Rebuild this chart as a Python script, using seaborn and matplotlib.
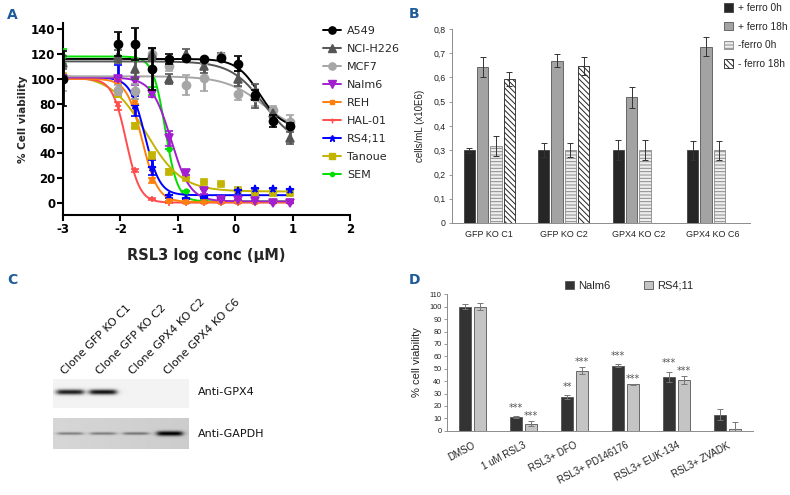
import numpy as np
import pandas as pd
import matplotlib
matplotlib.use('Agg')
import matplotlib.pyplot as plt
import seaborn as sns
from matplotlib.lines import Line2D
from matplotlib.patches import Patch
from matplotlib.container import BarContainer

sns.set_theme(style='ticks')
plt.rcParams['font.family'] = ['DejaVu Sans']
plt.rcParams['hatch.linewidth'] = 0.7

# ---------------- Panel A data ----------------
log_conc = [-3, -2.05, -1.75, -1.45, -1.15, -0.85, -0.55, -0.25, 0.05, 0.35, 0.65, 0.95]
cell_lines = ['A549', 'NCI-H226', 'MCF7', 'Nalm6', 'REH', 'HAL-01', 'RS4;11', 'Tanoue', 'SEM']
a549 = [100, 128, 128, 108, 116, 117, 116, 117, 112, 87, 66, 62]
a549_err = [22, 10, 13, 17, 4, 0, 0, 0, 6, 4, 5, 2]
nci_h226 = [113, 118, 108, 120, 100, 120, 110, 118, 100, 86, 72, 52]
nci_h226_err = [5, 5, 8, 5, 4, 4, 5, 3, 6, 10, 4, 5]
mcf7 = [100, 91, 90, 120, 110, 95, 101, 118, 88, 85, 75, 65]
mcf7_err = [10, 4, 6, 4, 4, 8, 11, 3, 5, 7, 3, 6]
nalm6 = [100, 100, 98, 88, 52, 24, 9, 2, 2, 1, 0, 0]
nalm6_err = [3, 2, 3, 3, 6, 2, 2, 0, 0, 0, 0, 0]
reh = [100, 98, 82, 18, 1, 0.5, 0.5, 0.5, 0.5, 0.5, 0.5, 0.5]
reh_err = [2, 2, 2, 2, 0, 0, 0, 0, 0, 0, 0, 0]
hal01 = [100, 78, 26, 3, 0, 0, 0, 0, 0, 0, 0, 0]
hal01_err = [2, 3, 1, 1, 0, 0, 0, 0, 0, 0, 0, 0]
rs411 = [101, 101, 78, 28, 5, 3, 4, 3, 9, 11, 11, 10]
rs411_err = [2, 10, 8, 6, 1, 0, 0, 0, 0, 0, 0, 0]
tanoue = [102, 88, 62, 38, 25, 20, 17, 15, 10, 8, 8, 8]
tanoue_err = [2, 3, 2, 3, 2, 0, 0, 0, 0, 0, 0, 0]
sem = [118, 118, 116, 90, 43, 9, 2, 1, 1, 1, 1, 1]
sem_err = [6, 0, 0, 3, 0, 0, 0, 0, 0, 0, 0, 0]
# four-parameter logistic fits: top, bottom, logIC50, slope
fit_top = [116, 114, 102, 101, 100, 100, 101, 103, 118]
fit_bottom = [60, 45, 55, 1, 0.5, 0, 6, 9, 1]
fit_ic50 = [0.42, 0.5, 0.5, -1.12, -1.62, -1.9, -1.57, -1.55, -1.22]
fit_slope = [2.2, 1.5, 1.3, 2.6, 3.2, 3.6, 3.4, 1.4, 4.0]

# ---------------- Panel B data ----------------
clones = ['GFP KO C1', 'GFP KO C2', 'GPX4 KO C2', 'GPX4 KO C6']
conditions = ['+ ferro 0h', '+ ferro 18h', '-ferro 0h', '- ferro 18h']
plus_0h = [0.30, 0.30, 0.30, 0.30]
plus_0h_err = [0.01, 0.028, 0.042, 0.04]
plus_18h = [0.643, 0.670, 0.518, 0.727]
plus_18h_err = [0.04, 0.028, 0.043, 0.04]
minus_0h = [0.318, 0.30, 0.30, 0.30]
minus_0h_err = [0.042, 0.028, 0.042, 0.04]
minus_18h = [0.595, 0.648, 0.0, 0.0]
minus_18h_err = [0.028, 0.037, 0.0, 0.0]
b_yticks = [0, 0.1, 0.2, 0.3, 0.4, 0.5, 0.6, 0.7, 0.8]
b_yticklabels = ['0', '0,1', '0,2', '0,3', '0,4', '0,5', '0,6', '0,7', '0,8']

# ---------------- Panel C data ----------------
lane_labels = ['Clone GFP KO C1', 'Clone GFP KO C2', 'Clone GPX4 KO C2', 'Clone GPX4 KO C6']
gpx4_band = [0.85, 0.9, 0.0, 0.0]
gapdh_band = [0.35, 0.35, 0.38, 0.85]

# ---------------- Panel D data ----------------
treatments = ['DMSO', '1 uM RSL3', 'RSL3+ DFO', 'RSL3+ PD146176', 'RSL3+ EUK-134', 'RSL3+ ZVADK']
nalm6_d = [100, 11, 27, 52.5, 43.5, 13]
nalm6_d_err = [2, 0.5, 1.5, 1, 4, 4.5]
rs411_d = [100, 5.5, 48.5, 37.5, 41, 1.5]
rs411_d_err = [3, 2, 3, 0.3, 3, 5.5]
nalm6_stars = ['', '***', '**', '***', '***', '']
rs411_stars = ['', '***', '***', '***', '***', '']

fig = plt.figure(figsize=(7.9, 4.95), dpi=100)
fig.patch.set_facecolor('white')
W, H = 790, 495


def pos(l, t, r, b):
    return [l / W, 1 - b / H, (r - l) / W, (b - t) / H]


# ================= Panel A =================
axA = fig.add_axes(pos(63, 23, 350, 215))
colorsA = ['#000000', '#555555', '#a6a6a6', '#a21fd0', '#ff7f0e', '#ff4d4d', '#0000ff', '#c2b400', '#00e000']
markersA = ['o', '^', 'o', 'v', 's', '+', '*', 's', 'o']
msA = [5.8, 5.8, 5.8, 5.8, 3, 4, 5.5, 4.2, 3.3]
valsA = [a549, nci_h226, mcf7, nalm6, reh, hal01, rs411, tanoue, sem]
errsA = [a549_err, nci_h226_err, mcf7_err, nalm6_err, reh_err, hal01_err, rs411_err, tanoue_err, sem_err]
xgrid = np.linspace(-3, 0.97, 300)
order = list(range(len(cell_lines)))[::-1]
for i in order:
    curve = fit_bottom[i] + (fit_top[i] - fit_bottom[i]) / (1 + 10 ** ((xgrid - fit_ic50[i]) * fit_slope[i]))
    sns.lineplot(x=xgrid, y=curve, color=colorsA[i], lw=1.4, ax=axA, zorder=2 + (9 - i) * 0.1)
for i in order:
    axA.errorbar(log_conc, valsA[i], yerr=errsA[i], fmt=markersA[i], ms=msA[i], color=colorsA[i],
                 ecolor=colorsA[i], elinewidth=2, capsize=3, capthick=2, mew=1.2, zorder=3 + (9 - i) * 0.1)
axA.set_xlim(-3, 2)
axA.set_ylim(-10, 145)
axA.set_xticks([-3, -2, -1, 0, 1, 2])
axA.set_yticks([0, 20, 40, 60, 80, 100, 120, 140])
for s in ['top', 'right']:
    axA.spines[s].set_visible(False)
for s in ['left', 'bottom']:
    axA.spines[s].set_linewidth(1.5)
    axA.spines[s].set_color('black')
axA.tick_params(width=1.5, length=4, pad=1.5, labelsize=8.5, colors='black')
axA.set_yticklabels(['0', '20', '40', '60', '80', '100', '120', '140'], fontweight='bold')
axA.set_xticklabels(['-3', '-2', '-1', '0', '1', '2'], fontweight='bold')
axA.set_xlabel('RSL3 log conc (μM)', fontsize=10.5, fontweight='bold', labelpad=9)
axA.set_ylabel('% Cell viability', fontsize=7.5, fontweight='bold', labelpad=2)
handlesA = [Line2D([0], [0], color=colorsA[i], marker=markersA[i], ms=msA[i] * 0.9, lw=1.4)
            for i in range(len(cell_lines))]
axA.legend(handlesA, cell_lines, loc='upper left', bbox_to_anchor=(0.905, 0.985), frameon=False,
           fontsize=8, handlelength=1.6, handletextpad=0.6, labelspacing=0.72, borderpad=0,
           borderaxespad=0)

# ================= Panel B =================
axB = fig.add_axes(pos(452, 29, 750, 223))
dfB = pd.DataFrame({
    'clone': clones * 4,
    'condition': sum([[c] * 4 for c in conditions], []),
    'value': plus_0h + plus_18h + minus_0h + minus_18h,
})
errB = [plus_0h_err, plus_18h_err, minus_0h_err, minus_18h_err]
sns.barplot(data=dfB, x='clone', y='value', hue='condition', order=clones, hue_order=conditions,
            width=0.72, gap=0.17, errorbar=None, legend=False, ax=axB,
            palette=['#262626', '#a3a3a3', '#ececec', '#ffffff'])
faceB = ['#262626', '#a3a3a3', '#eeeeee', '#ffffff']
edgeB = ['#404040', '#555555', '#8a8a8a', '#222222']
hatchB = [None, None, '-----', '\\\\\\\\\\\\']
barsB = [c for c in axB.containers if isinstance(c, BarContainer)]
for k, cont in enumerate(barsB):
    xs, ys = [], []
    for p in cont.patches:
        p.set_facecolor(faceB[k])
        p.set_edgecolor(edgeB[k])
        p.set_linewidth(0.6)
        if hatchB[k]:
            p.set_hatch(hatchB[k])
        xs.append(p.get_x() + p.get_width() / 2)
        ys.append(p.get_height())
    mask = np.array([y > 0 for y in ys])
    axB.errorbar(np.array(xs)[mask], np.array(ys)[mask], yerr=np.array(errB[k])[mask], fmt='none',
                 ecolor='#333333', elinewidth=0.7, capsize=2.5, capthick=0.7)
axB.set_xlim(-0.5, 3.5)
axB.set_ylim(0, 0.8)
axB.set_yticks(b_yticks)
axB.set_yticklabels(b_yticklabels, family='Liberation Sans')
axB.set_xticks(range(4))
axB.set_xticklabels(clones, family='Liberation Sans')
axB.tick_params(axis='y', labelsize=6.3, length=2.5, width=0.6, color='#888888', labelcolor='#222222', pad=2)
axB.tick_params(axis='x', labelsize=6.5, length=0, labelcolor='#222222', pad=5)
axB.set_xlabel('')
axB.set_ylabel('cells/mL (x10E6)', fontsize=7, family='Liberation Sans', color='#222222', labelpad=6)
for s in ['top', 'right']:
    axB.spines[s].set_visible(False)
for s in ['left', 'bottom']:
    axB.spines[s].set_color('#8c8c8c')
    axB.spines[s].set_linewidth(0.7)
handlesB = [Patch(facecolor=faceB[k], edgecolor=edgeB[k], hatch=hatchB[k], linewidth=0.6) for k in range(4)]
fig.legend(handlesB, conditions, loc='upper left', bbox_to_anchor=(724 / W, 1 - 3 / H), frameon=False,
           prop={'family': 'Liberation Sans', 'size': 7.3}, handlelength=0.9, handleheight=0.9,
           handletextpad=0.5, labelspacing=0.85, borderpad=0, borderaxespad=0)

# ================= Panel C =================
axC = fig.add_axes(pos(53, 379, 189, 449))
axC.axis('off')
lane_c = [0.5, 1.47, 2.44, 3.44]
xx = np.linspace(0, 4, 240)
yy1 = np.linspace(0, 29, 60)
X1, Y1 = np.meshgrid(xx, yy1)
img1 = np.full_like(X1, 0.95)
for lc, b in zip(lane_c, gpx4_band):
    px = 1 / (1 + np.exp((np.abs(X1 - lc) - 0.39) / 0.05))
    py = np.exp(-((Y1 - 16) / 2.6) ** 2)
    img1 -= b * px * py
axC.imshow(img1, extent=(0, 4, 41, 70), origin='lower', cmap='gray', vmin=0, vmax=1, aspect='auto',
           interpolation='bilinear')
yy2 = np.linspace(0, 30, 60)
X2, Y2 = np.meshgrid(xx, yy2)
img2 = np.full_like(X2, 0.84) - 0.04 * (X2 / 4)
for lc, b in zip(lane_c, gapdh_band):
    px = 1 / (1 + np.exp((np.abs(X2 - lc) - 0.37) / 0.05))
    sy = 1.3 if b < 0.5 else 2.3
    py = np.exp(-((Y2 - 15) / sy) ** 2)
    img2 -= b * px * py
axC.imshow(img2, extent=(0, 4, 0, 30), origin='lower', cmap='gray', vmin=0, vmax=1, aspect='auto',
           interpolation='bilinear')
axC.set_xlim(0, 4)
axC.set_ylim(0, 70)
label_x = [0.4, 1.42, 2.4, 3.42]
for lx, t in zip(label_x, lane_labels):
    axC.text(lx, 73, t, rotation=45, ha='left', va='bottom', rotation_mode='anchor', fontsize=8,
             color='#111111', clip_on=False)
axC.text(4.26, 57, 'Anti-GPX4', ha='left', va='center', fontsize=8, color='#111111', clip_on=False)
axC.text(4.26, 15, 'Anti-GAPDH', ha='left', va='center', fontsize=8, color='#111111', clip_on=False)

# ================= Panel D =================
axD = fig.add_axes(pos(447, 294.3, 753, 430.7))
dfD = pd.DataFrame({
    'treatment': treatments * 2,
    'line': ['Nalm6'] * 6 + ['RS4;11'] * 6,
    'value': nalm6_d + rs411_d,
})
errD = [nalm6_d_err, rs411_d_err]
starsD = [nalm6_stars, rs411_stars]
star_off = [7.0, 4.0]
faceD = ['#333333', '#c4c4c4']
sns.barplot(data=dfD, x='treatment', y='value', hue='line', order=treatments, hue_order=['Nalm6', 'RS4;11'],
            width=0.58, gap=0.16, errorbar=None, legend=False, ax=axD, palette=faceD)
barsD = [c for c in axD.containers if isinstance(c, BarContainer)]
for k, cont in enumerate(barsD):
    xs, ys = [], []
    for p in cont.patches:
        p.set_edgecolor('#555555')
        p.set_linewidth(0.6)
        xs.append(p.get_x() + p.get_width() / 2)
        ys.append(p.get_height())
    axD.errorbar(xs, ys, yerr=errD[k], fmt='none', ecolor='#777777', elinewidth=0.7, capsize=2,
                 capthick=0.7)
    for x, y, e, s in zip(xs, ys, errD[k], starsD[k]):
        if s:
            axD.text(x, y + e + star_off[k], s, ha='center', va='center', fontsize=7, color='#555555')
axD.set_xlim(-0.5, 5.5)
axD.set_ylim(0, 110)
axD.set_yticks(range(0, 111, 10))
axD.set_yticklabels([str(v) for v in range(0, 111, 10)], family='Liberation Sans')
axD.set_xticks(range(6))
axD.set_xticklabels(treatments, rotation=28, ha='right', rotation_mode='anchor', family='Liberation Sans')
axD.tick_params(axis='y', labelsize=5.3, length=2, width=0.6, color='#888888', labelcolor='#222222', pad=2)
axD.tick_params(axis='x', labelsize=7, length=0, labelcolor='#222222', pad=7)
axD.set_xlabel('')
axD.set_ylabel('% cell viability', fontsize=8, family='Liberation Sans', color='#222222', labelpad=5)
for s in ['top', 'right']:
    axD.spines[s].set_visible(False)
for s in ['left', 'bottom']:
    axD.spines[s].set_color('#8c8c8c')
    axD.spines[s].set_linewidth(0.7)
handlesD = [Patch(facecolor=faceD[k], edgecolor='#555555', linewidth=0.6) for k in range(2)]
axD.legend(handlesD, ['Nalm6', 'RS4;11'], loc='upper left', bbox_to_anchor=((565 - 447) / 306, 1.1),
           ncol=2, frameon=False, prop={'family': 'Liberation Sans', 'size': 8}, handlelength=0.8,
           handleheight=0.8, handletextpad=0.4, columnspacing=3.0, borderpad=0, borderaxespad=0)

# ================= panel letters =================
for t, x, y in [('A', 7, 15), ('B', 409, 14), ('C', 7, 280), ('D', 409, 280)]:
    fig.text(x / W, 1 - y / H, t, ha='left', va='center', fontsize=10, fontweight='bold', color='#1f5c99')

fig.savefig('out.png', dpi=100, facecolor='white')
